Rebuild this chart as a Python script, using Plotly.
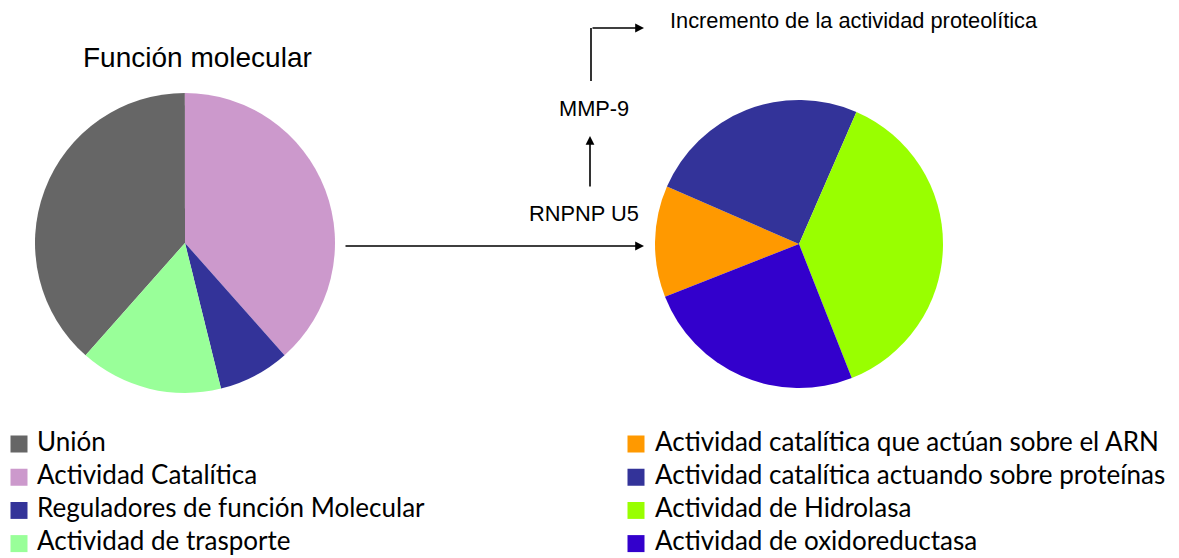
import plotly.graph_objects as go

W, H = 1179, 558

# ---- data ----
left_labels = ["Unión", "Actividad Catalítica", "Reguladores de función Molecular", "Actividad de trasporte"]
left_values = [5, 5, 1, 2]
left_colors = ["#666666", "#cc99cc", "#333399", "#99ff99"]

right_labels = ["Actividad catalítica que actúan sobre el ARN",
                "Actividad catalítica actuando sobre proteínas",
                "Actividad de Hidrolasa",
                "Actividad de oxidoreductasa"]
right_values = [1, 2, 3, 2]
right_colors = ["#ff9900", "#333399", "#99ff00", "#3300cc"]

title_text = "Función molecular"
flow_texts = ["RNPNP U5", "MMP-9", "Incremento de la actividad proteolítica"]


def px(x):
    return x / W


def py(y):
    return 1 - y / H


fig = go.Figure()

# left pie: center (185, 243), r = 150
fig.add_trace(go.Pie(
    labels=left_labels, values=left_values, sort=False, direction="clockwise",
    rotation=221.5, textinfo="none", hoverinfo="label+percent",
    marker=dict(colors=left_colors, line=dict(width=0)),
    domain=dict(x=[px(35), px(335)], y=[py(393), py(93)]),
    showlegend=False,
))

# right pie: center (799, 244), r = 144
fig.add_trace(go.Pie(
    labels=right_labels, values=right_values, sort=False, direction="clockwise",
    rotation=248.5, textinfo="none", hoverinfo="label+percent",
    marker=dict(colors=right_colors, line=dict(width=0)),
    domain=dict(x=[px(655), px(943)], y=[py(388), py(100)]),
    showlegend=False,
))

# custom legends (rows indexed 0..3 on a hidden axis)
legend_font = dict(family="Lato, Carlito, Calibri, sans-serif", size=26, color="#000000")
for labels, colors, mx, tx in [(left_labels, left_colors, 19, 37),
                               (right_labels, right_colors, 636, 655)]:
    rows = list(range(len(labels)))
    fig.add_trace(go.Scatter(
        x=[mx] * len(rows), y=rows, mode="markers",
        marker=dict(symbol="square", size=17, color=colors, line=dict(width=0)),
        hoverinfo="skip", showlegend=False, xaxis="x", yaxis="y",
    ))
    fig.add_trace(go.Scatter(
        x=[tx] * len(rows), y=rows, mode="text", text=labels,
        textposition="middle right", textfont=legend_font,
        hoverinfo="skip", showlegend=False, xaxis="x", yaxis="y",
    ))

row_top, row_gap = 444, 33.2
y_top_px = row_top - row_gap / 2

fig.update_layout(
    width=W, height=H,
    margin=dict(l=0, r=0, t=0, b=0),
    paper_bgcolor="white", plot_bgcolor="rgba(0,0,0,0)",
    xaxis=dict(domain=[0, 1], range=[0, W], visible=False, fixedrange=True),
    yaxis=dict(domain=[0, py(y_top_px)], range=[(H - row_top) / row_gap, -0.5],
               visible=False, fixedrange=True),
)

arial = "Liberation Sans, Arial, sans-serif"
ann = []
ann.append(dict(text=title_text, x=px(197), y=py(58), xref="paper", yref="paper",
                xanchor="center", yanchor="middle", showarrow=False,
                font=dict(family=arial, size=28, color="#000000")))
ann.append(dict(text=flow_texts[0], x=px(584), y=py(214), xref="paper", yref="paper",
                xanchor="center", yanchor="middle", showarrow=False,
                font=dict(family=arial, size=21.8, color="#000000")))
ann.append(dict(text=flow_texts[1], x=px(594), y=py(108), xref="paper", yref="paper",
                xanchor="center", yanchor="middle", showarrow=False,
                font=dict(family=arial, size=21.8, color="#000000")))
ann.append(dict(text=flow_texts[2], x=px(668), y=py(21), xref="paper", yref="paper",
                xanchor="left", yanchor="middle", showarrow=False,
                font=dict(family=arial, size=21.8, color="#000000")))

arrow_style = dict(showarrow=True, arrowhead=2, arrowsize=1.1, arrowwidth=1.6,
                   arrowcolor="#000000", standoff=0, startstandoff=0, text="",
                   xref="paper", yref="paper", axref="pixel", ayref="pixel")
# horizontal arrow between pies
ann.append(dict(x=px(644), y=py(246), ax=-300, ay=0, **arrow_style))
# vertical arrow RNPNP U5 -> MMP-9
ann.append(dict(x=px(590), y=py(136), ax=0, ay=52, **arrow_style))
# elbow arrow head segment
ann.append(dict(x=px(644), y=py(28), ax=-53, ay=0, **arrow_style))

fig.update_layout(annotations=ann)
fig.add_shape(type="line", xref="paper", yref="paper",
              x0=px(591), x1=px(591), y0=py(81), y1=py(28),
              line=dict(color="#000000", width=1.6))

fig.write_html("out.html", config={"displayModeBar": False},
               post_script="document.body.style.margin='0px';")
